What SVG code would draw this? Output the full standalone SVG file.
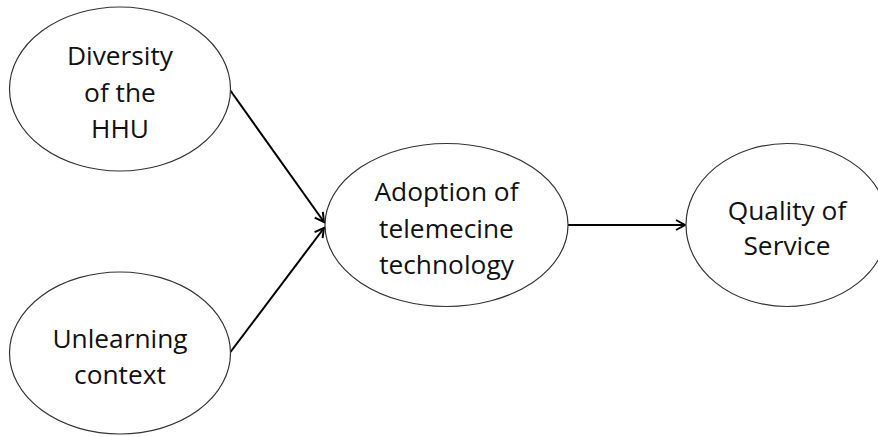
<svg xmlns="http://www.w3.org/2000/svg" width="878" height="437" viewBox="0 0 878 437">
<style>
.node ellipse { fill: #ffffff; stroke: #333333; stroke-width: 1.2; }
.node text { font-family: "Open Sans", "Liberation Sans", Arial, sans-serif; font-size: 26.3px; fill: #111111; text-anchor: middle; }
.conn line { stroke: #000000; stroke-width: 2; fill: none; }
</style>
<defs>
<marker id="arrow" markerUnits="userSpaceOnUse" markerWidth="14" markerHeight="14" viewBox="0 0 14 14" refX="11" refY="7" orient="auto">
<path d="M2,2 L11,7 L2,12" fill="none" stroke="#000000" stroke-width="2"/>
</marker>
</defs>
<rect width="878" height="437" fill="#ffffff"/>
<g class="conn" id="connectors">
<line x1="230" y1="90" x2="324" y2="222" marker-end="url(#arrow)"/>
<line x1="230.5" y1="352" x2="324" y2="228" marker-end="url(#arrow)"/>
<line x1="568" y1="225" x2="685" y2="225" marker-end="url(#arrow)"/>
</g>
<g class="node" id="diversity">
<ellipse cx="120" cy="89" rx="110.5" ry="82"/>
<text x="120" y="65">Diversity</text>
<text x="120" y="101.5">of the</text>
<text x="120" y="138">HHU</text>
</g>
<g class="node" id="unlearning">
<ellipse cx="120" cy="353" rx="110.5" ry="81"/>
<text x="120" y="348">Unlearning</text>
<text x="120" y="384">context</text>
</g>
<g class="node" id="adoption">
<ellipse cx="446.5" cy="225" rx="121.5" ry="81.5"/>
<text x="446.5" y="201">Adoption of</text>
<text x="446.5" y="238">telemecine</text>
<text x="446.5" y="274">technology</text>
</g>
<g class="node" id="quality">
<ellipse cx="787" cy="225" rx="101" ry="81.5"/>
<text x="787" y="220">Quality of</text>
<text x="787" y="255">Service</text>
</g>
</svg>
